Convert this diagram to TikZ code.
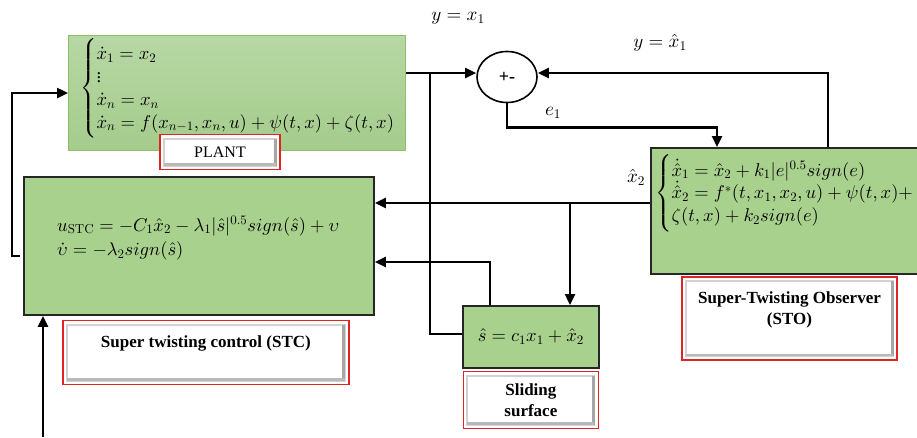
\documentclass[tikz,border=0pt]{standalone}
\usepackage{amsmath}
\usepackage[no-math]{fontspec}
\setmainfont{Liberation Serif}
\DeclareFontShape{OT1}{cmr}{m}{n}{<->cmr10}{}
\DeclareFontShape{OML}{cmm}{m}{it}{<->cmmi10}{}
\DeclareFontShape{OMS}{cmsy}{m}{n}{<->cmsy10}{}
\DeclareFontShape{OMX}{cmex}{m}{n}{<->cmex10}{}
\usepackage{tikz}
\usetikzlibrary{positioning,arrows.meta,calc,shapes.geometric}
\definecolor{boxgreen}{RGB}{169,209,142}
\definecolor{planttop}{RGB}{183,215,164}
\definecolor{plantbot}{RGB}{164,204,140}
\definecolor{plantedge}{RGB}{140,192,104}
\definecolor{lblred}{RGB}{225,35,35}
\tikzset{
  block/.style={rectangle, draw=black!85, line width=1.8pt, fill=boxgreen, inner sep=0pt},
  plantblock/.style={rectangle, draw=plantedge, line width=1pt, top color=planttop,
                     bottom color=plantbot, inner sep=0pt},
  summer/.style={ellipse, draw=black, line width=1.6pt, fill=white, minimum width=60pt,
                 minimum height=51pt, inner sep=0pt, font=\fontsize{18}{20}\selectfont\bfseries},
  lblbox/.style={rectangle, draw=lblred, line width=1.4pt, fill=white, inner sep=0pt,
                 align=center, font=\fontsize{17}{21}\selectfont\bfseries,
                 path picture={
                   \draw[gray!35, line width=2pt]
                     ($(path picture bounding box.south west)+(4pt,4pt)$) rectangle
                     ($(path picture bounding box.north east)+(-4pt,-4pt)$);
                   \draw[gray!70, line width=3pt]
                     ($(path picture bounding box.south east)+(-5pt,4pt)$) --
                     ($(path picture bounding box.north east)+(-5pt,-4pt)$);
                   \draw[gray!55, line width=2.4pt]
                     ($(path picture bounding box.south west)+(4pt,5pt)$) --
                     ($(path picture bounding box.south east)+(-4pt,5pt)$);}},
  sig/.style={-{Triangle[length=11pt,width=10pt]}, line width=2.4pt},
  wire/.style={line width=2.4pt},
  eq/.style={font=\fontsize{18.5}{24}\selectfont, align=left, inner sep=0pt},
  lbl/.style={font=\fontsize{19}{22}\selectfont, inner sep=0pt}
}

\begin{document}
\begin{tikzpicture}[x=1pt, y=-1pt]
  \useasboundingbox (0,0) rectangle (917,437);
  \clip (0,0) rectangle (917,437);

  % blocks
  \node[plantblock, minimum width=337pt, minimum height=115pt, anchor=north west] (plant) at (68,35) {};
  \node[eq, anchor=north west] (planteq) at (80,38)
    {$\begin{cases}\dot x_1 = x_2\\[-6pt] \vdots\\[-6pt] \dot x_n = x_n\\[-6pt]
      \dot x_n = f(x_{n-1},x_n,u)+\psi(t,x)+\zeta(t,x)\end{cases}$};
  \node[lblbox, font=\fontsize{16}{18}\selectfont, minimum width=120pt, minimum height=35pt] (plantlbl) at (220,152) {PLANT};

  \node[block, minimum width=350pt, minimum height=138pt, anchor=north west] (stc) at (23,176) {};
  \node[eq, anchor=west] (stceq) at (57,238)
    {$u_{\mathrm{STC}} = -C_1\hat x_2-\lambda_1|\hat s|^{0.5}sign(\hat s)+\upsilon$\\
     $\dot\upsilon = -\lambda_2 sign(\hat s)$};
  \node[lblbox, minimum width=286pt, minimum height=64pt, below=4pt of stc.south, xshift=7pt] (stclbl)
    {Super twisting control (STC)\\ \mbox{}};

  \node[summer] (sum) at (507,77) {+-};

  \node[block, minimum width=300pt, minimum height=126pt, anchor=north west] (sto) at (650,147) {};
  \node[eq, anchor=north west] (stoeq) at (655,154)
    {$\begin{cases}\dot{\hat x}_1 = \hat x_2+k_1|e|^{0.5}sign(e)\\[-6pt]
      \dot{\hat x}_2 = f^*(t,x_1,x_2,u)+\psi(t,x)+\\[-6pt]
      \zeta(t,x)+k_2 sign(e)\end{cases}$};
  \node[lblbox, minimum width=215pt, minimum height=83pt] (stolbl) at (789.5,318.5)
    {Super-Twisting Observer\\(STO)\\ \mbox{}};

  \node[block, minimum width=136pt, minimum height=62pt, anchor=north west] (ssurf) at (462,305)
    {\fontsize{18.5}{20}\selectfont$\hat s = c_1x_1+\hat x_2$};
  \node[lblbox, minimum width=135pt, minimum height=57pt, below=2pt of ssurf] (sslbl)
    {Sliding\\surface};

  % connectors
  \coordinate (pout) at ($(plant.north east)+(0,38)$);
  \coordinate (br1) at (430,73);
  \coordinate (stoin) at ($(sto.north west)+(67,0)$);
  \coordinate (stoout) at ($(sto.north west)+(178,0)$);
  \coordinate (xhat) at ($(sto.north west)+(0,56)$);
  \coordinate (br2) at (570,203);
  \coordinate (sout) at ($(ssurf.north west)+(28,0)$);
  \coordinate (uout) at (20,256);
  \coordinate (ref) at (43,437);

  \draw[sig] (pout) -- ($(sum.west)+(0,-4)$);
  \draw[wire] (br1) |- ($(ssurf.west)+(0,-3)$);
  \draw[sig] (sum.south) -- ++(0,24) -| (stoin);
  \draw[sig] (stoout) |- ($(sum.east)+(0,-4)$);
  \draw[sig] (xhat) -- (stc.east |- xhat);
  \draw[sig] (br2) -- (br2 |- ssurf.north);
  \draw[sig] (sout) |- ($(stc.north east)+(0,86)$);
  \draw[sig] (uout) -- ++(-8,0) |- (plant.west);
  \draw[sig] (ref) -- (ref |- stc.south);

  % signal labels
  \node[lbl] (ylbl) at (458,18) {$y = x_1$};
  \node[lbl] (yhlbl) at (660,43) {$y = \hat x_1$};
  \node[lbl] (elbl) at (553,113) {$e_1$};
  \node[lbl] (xhlbl) at (636,177) {$\hat x_2$};
\end{tikzpicture}
\end{document}
